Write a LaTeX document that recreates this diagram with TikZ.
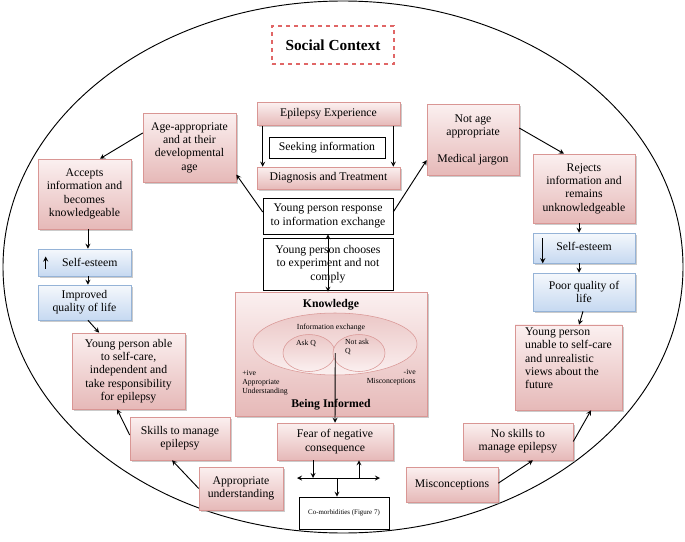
\documentclass[tikz,border=0pt]{standalone}
\usepackage{fontspec}
\setmainfont{Liberation Serif}
\usetikzlibrary{shapes.geometric, arrows, positioning, shadows, calc}

\definecolor{pinkedge}{HTML}{D99694}
\definecolor{pinktop}{HTML}{FBF0F0}
\definecolor{pinkbot}{HTML}{E6B9B8}
\definecolor{blueedge}{HTML}{95B3D7}
\definecolor{bluetop}{HTML}{F5F8FC}
\definecolor{bluebot}{HTML}{C6D9F1}
\definecolor{dashred}{HTML}{E06666}

\begin{document}
\begin{tikzpicture}[
        x=0.75pt, y=-0.75pt,
        every node/.style={align=center, inner sep=2pt, font=\fontsize{8.8}{10}\selectfont},
        shade/.style={drop shadow={shadow xshift=1.3pt, shadow yshift=-1.3pt, fill=black!45, opacity=0.45}},
        pinkbox/.style={rectangle, draw=pinkedge, top color=pinktop, bottom color=pinkbot, shade},
        bluebox/.style={rectangle, draw=blueedge, top color=bluetop, bottom color=bluebot, shade},
        plainbox/.style={rectangle, draw=black, fill=white},
        bubble/.style={ellipse, draw=pinkedge, top color=pinkbot!80, bottom color=pinktop},
        tiny/.style={font=\fontsize{5.8}{6.8}\selectfont},
        arrow/.style={->, >=stealth, line width=0.7pt}
    ]
        \useasboundingbox (0,0) rectangle (685,542);
        \draw[line width=0.7pt] (343,267) ellipse [x radius=255pt, y radius=199.5pt];

        \node[draw=dashred, dashed, thick, minimum width=91.5pt, minimum height=28.5pt, font=\bfseries\fontsize{11.5}{13}\selectfont] (social) at (333,45) {Social Context};

        % centre column
        \node[pinkbox, minimum width=107.25pt, minimum height=17.25pt] (exper) at (328.5,114) {Epilepsy Experience};
        \node[plainbox, minimum width=87pt, minimum height=15.75pt] (seek) at (327,147.5) {Seeking information};
        \node[pinkbox, minimum width=107.25pt, minimum height=16.5pt] (diag) at (328.5,178) {Diagnosis and Treatment};
        \node[plainbox, minimum width=97.5pt, minimum height=27pt] (resp) at (328,216) {Young person response\\to information exchange};
        \node[plainbox, minimum width=97.5pt, minimum height=39pt] (choose) at (328,264) {Young person chooses\\to experiment and not\\comply};

        \node[pinkbox, minimum width=144pt, minimum height=93pt] (know) at (331,354) {};
        \node (knowtitle) at (331,305) {\textbf{Knowledge}};
        \node (informtitle) at (331,405) {\textbf{Being Informed}};
        \node[bubble, minimum width=123pt, minimum height=46.5pt] (infoex) at (335,344) {};
        \node[bubble, minimum width=39pt, minimum height=27.75pt] (askq) at (309,353) {};
        \node[bubble, minimum width=39pt, minimum height=27.75pt] (notq) at (359,353) {};
        \node[tiny] (infotext) at (331,328) {Information exchange};
        \node[tiny] (asktext) at (306,343) {Ask Q};
        \node[tiny, align=left] (notqtext) at (357,347) {Not ask\\Q};
        \node[tiny, align=left, anchor=north west, inner sep=0pt] (plustext) at (242,370) {+ive\\Appropriate\\Understanding};
        \node[tiny, align=right, anchor=north east, inner sep=0pt] (minustext) at (416,369) {-ive\hspace{6pt}\\Misconceptions};

        \node[pinkbox, minimum width=87pt, minimum height=27.75pt] (fear) at (335,441.5) {Fear of negative\\consequence};
        \node[plainbox, minimum width=67.5pt, minimum height=24pt, font=\fontsize{5.2}{6}\selectfont] (comorb) at (344,513) {Co-morbidities (Figure 7)};

        % left branch
        \node[pinkbox, minimum width=69.75pt, minimum height=51.75pt] (ageok) at (189.5,147.5) {Age-appropriate\\and at their\\developmental\\age};
        \node[pinkbox, minimum width=69.75pt, minimum height=52.5pt] (accept) at (84.5,194) {Accepts\\information and\\becomes\\knowledgeable};
        \node[bluebox, minimum width=69.75pt, minimum height=20.25pt] (esteemup) at (84.5,262.5) {\hspace{8pt}Self-esteem};
        \node[bluebox, minimum width=69.75pt, minimum height=26.25pt] (qolup) at (84.5,302.5) {Improved\\quality of life};
        \node[pinkbox, minimum width=84.75pt, minimum height=57pt] (able) at (128.5,371) {Young person able\\to self-care,\\independent and\\take responsibility\\for epilepsy};
        \node[pinkbox, minimum width=75pt, minimum height=32.25pt] (skills) at (180,438.5) {Skills to manage\\epilepsy};
        \node[pinkbox, minimum width=63pt, minimum height=32.25pt] (approp) at (241,488.5) {Appropriate\\understanding};

        % right branch
        \node[pinkbox, minimum width=69pt, minimum height=53.25pt] (notage) at (473,139.5) {Not age\\appropriate\\[10pt]Medical jargon};
        \node[pinkbox, minimum width=76.5pt, minimum height=51.75pt] (reject) at (584,188.5) {Rejects\\information and\\remains\\unknowledgeable};
        \node[bluebox, minimum width=76.5pt, minimum height=22.5pt] (esteemdn) at (584,248) {\raisebox{2pt}{Self-esteem}};
        \node[bluebox, minimum width=76.5pt, minimum height=28.5pt] (qoldn) at (584,292) {Poor quality of\\life};
        \node[pinkbox, minimum width=80.25pt, minimum height=63.75pt, align=left] (unable) at (568.5,367.5) {Young person\\unable to self-care\\and unrealistic\\views about the\\future\\[4pt]};
        \node[pinkbox, minimum width=82.5pt, minimum height=27.75pt] (noskill) at (518,441.5) {No skills to\\manage epilepsy};
        \node[pinkbox, minimum width=69pt, minimum height=26.25pt] (miscon) at (452,484.5) {Misconceptions};

        % connectors
        \draw[arrow] ([xshift=4.5pt]exper.south west) -- ([xshift=4.5pt]diag.north west);
        \draw[arrow] ([xshift=-5.25pt]exper.south east) -- ([xshift=-5.25pt]diag.north east);
        \draw[arrow] ([yshift=3pt]resp.west) -- (ageok.-30);
        \draw[arrow] ([yshift=3pt]resp.east) -- (notage.204);
        \draw[arrow, <->] (resp.south) -- (resp.south |- know.north);

        \draw[arrow] ([yshift=10.9pt]ageok.west) -- ([xshift=11.6pt]accept.north);
        \draw[arrow] ([xshift=2.6pt]accept.south) -- ([xshift=2.6pt]esteemup.north);
        \draw[arrow] ([xshift=2.6pt]esteemup.south) -- ([xshift=2.6pt]qolup.north);
        \draw[arrow] ([xshift=2.6pt]qolup.south) -- ([xshift=-22pt]able.north);
        \draw[arrow] ([yshift=2.6pt]skills.west) -- ([xshift=-8.6pt]able.south);
        \draw[arrow] (approp.west) -- ([xshift=-6pt]skills.south);

        \draw[arrow] ([yshift=8.6pt]notage.east) -- ([xshift=-15pt]reject.north);
        \draw[arrow] ([xshift=-3.75pt]reject.south) -- ([xshift=-3.75pt]esteemdn.north);
        \draw[arrow] ([xshift=-3.75pt]esteemdn.south) -- ([xshift=-3.75pt]qoldn.north);
        \draw[arrow] ([xshift=-0.75pt]qoldn.south) -- ([xshift=7.9pt]unable.north);
        \draw[arrow] (noskill.east) -- ([xshift=16.9pt]unable.south);
        \draw[arrow] ([yshift=1pt]miscon.east) -- ([xshift=11.25pt]noskill.south);

        % self-esteem marks
        \draw[arrow] ([xshift=6pt,yshift=-4.5pt]esteemup.west) -- ([xshift=6pt,yshift=4.5pt]esteemup.west);
        \draw[arrow] ([xshift=7.5pt,yshift=7.5pt]esteemdn.west) -- ([xshift=7.5pt]esteemdn.south west);

        % being informed to fear and beyond
        \draw[arrow] (askq.east) -- (fear.north);
        \coordinate (hub) at (337,478);
        \coordinate (hubW) at (297,478);
        \coordinate (hubE) at (380,478);
        \coordinate (fearL) at ([xshift=-16.5pt]fear.south);
        \coordinate (fearR) at ([xshift=18pt]fear.south);
        \draw[arrow, <->] (hubW) -- (hubE);
        \draw[arrow] (fearL) -- (fearL |- hub);
        \draw[arrow] (fearR |- hub) -- (fearR);
        \draw[arrow] (hub) -- (hub |- comorb.north);
\end{tikzpicture}
\end{document}
